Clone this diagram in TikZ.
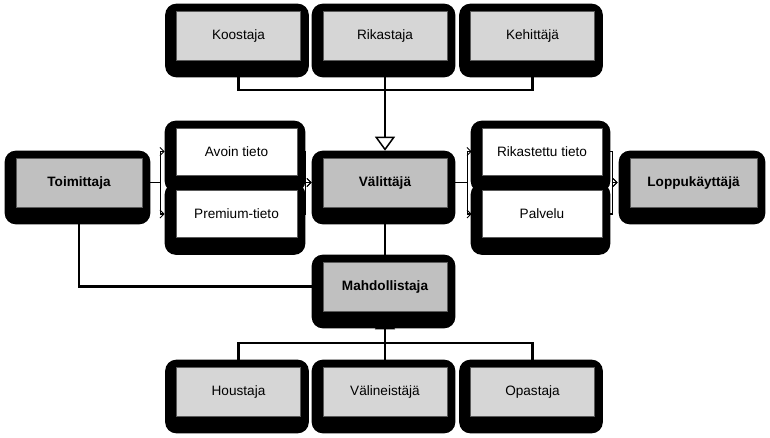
\documentclass[tikz,border=0pt]{standalone}
\usepackage{fontspec}
\setmainfont{Liberation Sans}
\usetikzlibrary{arrows.meta,calc}
\pgfdeclarelayer{lines}
\pgfdeclarelayer{shade}
\pgfsetlayers{lines,shade,main}
\definecolor{rolegray}{HTML}{D6D6D6}
\definecolor{keygray}{HTML}{C0C0C0}
\definecolor{edgegray}{HTML}{5A5A5A}

\begin{document}
\begin{tikzpicture}[x=1pt, y=-1pt,
    box/.style={draw=edgegray, line width=0.6pt, minimum width=124pt, minimum height=49pt,
      inner sep=0pt, font=\fontsize{13.6}{15}\selectfont},
    role/.style={box, fill=rolegray},
    keyrole/.style={box, fill=keygray, font=\fontsize{13.6}{15}\selectfont\bfseries},
    data/.style={box, fill=white, minimum width=121pt, minimum height=47pt},
    link/.style={line width=2.2pt},
    branch/.style={line width=1.5pt, -{Straight Barb[length=4pt, width=8pt, line width=1pt]}},
    inherit/.style={line width=2.2pt, -{Triangle[fill=white, length=14pt, width=20pt, line width=1.5pt]}}]
  \useasboundingbox (0,0) rectangle (770,438);

  % supporting roles, top
  \node[role] (koostaja) at (238.5,35.5) {Koostaja};
  \node[role] (rikastaja) at (385,35.5) {Rikastaja};
  \node[role] (kehittaja) at (532.5,35.5) {Kehittäjä};

  % value chain
  \node[keyrole, minimum width=126pt] (toimittaja) at (79,182.5) {Toimittaja};
  \node[data] (avoin) at (236.5,151.5) {Avoin tieto};
  \node[data] (premium) at (236.5,214) {Premium-tieto};
  \node[keyrole] (valittaja) at (385,182.5) {Välittäjä};
  \node[data, minimum width=120pt] (rikastettu) at (542,151.5) {Rikastettu tieto};
  \node[data, minimum width=120pt] (palvelu) at (542,214) {Palvelu};
  \node[keyrole, minimum width=127pt] (loppu) at (693.5,182.5) {Loppukäyttäjä};

  % enablers, bottom
  \node[keyrole] (mahdollistaja) at (385,286.5) {Mahdollistaja};
  \node[role] (houstaja) at (238.5,391.5) {Houstaja};
  \node[role] (valineistaja) at (385,391.5) {Välineistäjä};
  \node[role] (opastaja) at (532.5,391.5) {Opastaja};

  % heavy black frames
  \begin{pgfonlayer}{shade}
    \foreach \n in {koostaja,rikastaja,kehittaja,toimittaja,avoin,premium,valittaja,
        rikastettu,palvelu,loppu,mahdollistaja,houstaja,valineistaja,opastaja}
      \fill[rounded corners=11pt] ([shift={(-11pt,7pt)}]\n.north west) rectangle ([shift={(8pt,-17pt)}]\n.south east);
  \end{pgfonlayer}

  \begin{pgfonlayer}{lines}
    % top roles to broker
    \draw[link] (koostaja.south) -- ++(0,30) -| (kehittaja.south);
    \draw[inherit] (rikastaja.south) -- ([yshift=7pt]valittaja.north);

    % data flow
    \draw[branch] (toimittaja.east) -- ++(18,0) |- ([xshift=-11pt]avoin.west);
    \draw[branch] (toimittaja.east) -- ++(18,0) |- ([xshift=-11pt]premium.west);
    \draw[branch] (avoin.east) -- ++(8,0) |- ([xshift=-11pt]valittaja.west);
    \draw[branch] (premium.east) -- ++(8,0) |- ([xshift=-11pt]valittaja.west);
    \draw[branch] (valittaja.east) -- ++(20,0) |- ([xshift=-10pt]rikastettu.west);
    \draw[branch] (valittaja.east) -- ++(20,0) |- ([xshift=-10pt]palvelu.west);
    \draw[branch] (rikastettu.east) -- ++(10,0) |- ([xshift=-12pt]loppu.west);
    \draw[branch] (palvelu.east) -- ++(10,0) |- ([xshift=-12pt]loppu.west);

    % enablers
    \draw[link] (valittaja.south) -- (mahdollistaja.north);
    \draw[link] (toimittaja.south) |- (mahdollistaja.west);
    \draw[link] (houstaja.north) -- ++(0,-24) -| (opastaja.north);
    \draw[inherit] (valineistaja.north) -- ([yshift=-4pt]mahdollistaja.south);
  \end{pgfonlayer}
\end{tikzpicture}
\end{document}
